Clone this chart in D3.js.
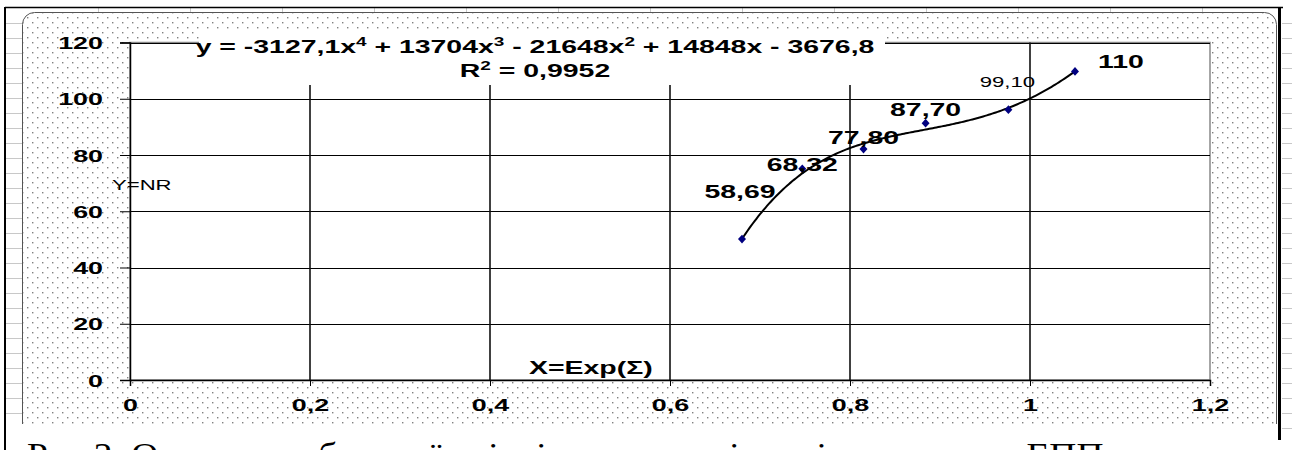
<!DOCTYPE html>
<html>
<head>
<meta charset="utf-8">
<script src="https://cdn.jsdelivr.net/npm/d3@7"></script>
<style>
  body { margin: 0; background: #fff; }
  svg { display: block; }
</style>
</head>
<body>
<script>
// data
let xValues = [0.68, 0.747, 0.815, 0.884, 0.976, 1.05];
let yValues = [50.1, 75.1, 82.1, 91.3, 96.1, 109.7];
let pointLabels = ["58,69", "68,32", "77,80", "87,70", "99,10", "110"];
let xTicks = [0, 0.2, 0.4, 0.6, 0.8, 1, 1.2];
let yTicks = [0, 20, 40, 60, 80, 100, 120];
// trendline y = a0 + a1 x + a2 x^2 + a3 x^3 + a4 x^4
let trendCoef = [-3676.8, 14848, -21648, 13704, -3127.1];
let rSquared = 0.9952;

// label placement relative to the marker (layout, not data)
let labelOffsets = [[-2, -41], [0, 2], [0, -5], [0, -7], [-1, -23], [46, -3]];

let width = 1292;
let height = 450;
let S = 1.58; // the scanned picture is stretched sideways, so is the lettering

let comma = d => String(d).replace(".", ",");

let svg = d3.select("body")
    .append("svg")
    .attr("width", width)
    .attr("height", height);

// dotted chart area fill
let defs = svg.append("defs");
let pat = defs.append("pattern")
    .attr("id", "dots")
    .attr("width", 10)
    .attr("height", 10)
    .attr("patternUnits", "userSpaceOnUse");
pat.append("rect").attr("width", 10).attr("height", 10).attr("fill", "#fff");
pat.append("rect").attr("x", 2).attr("y", 2).attr("width", 1.4).attr("height", 1.4).attr("fill", "#808080");
pat.append("rect").attr("x", 7).attr("y", 7).attr("width", 1.4).attr("height", 1.4).attr("fill", "#808080");

// spreadsheet cells showing around the chart
let cellRows = d3.range(23, 440, 15);
svg.selectAll("line.cellL")
    .data(cellRows)
    .enter()
        .append("line")
        .attr("x1", 6).attr("x2", 22)
        .attr("y1", d => d + 0.5).attr("y2", d => d + 0.5)
        .attr("stroke", "#c8c8c8");
svg.selectAll("line.cellR")
    .data(cellRows)
    .enter()
        .append("line")
        .attr("x1", 1282).attr("x2", 1292)
        .attr("y1", d => d + 0.5).attr("y2", d => d + 0.5)
        .attr("stroke", "#c8c8c8");
svg.selectAll("line.cellTop")
    .data(d3.range(98, 1276, 92))
    .enter()
        .append("line")
        .attr("x1", d => d + 0.5).attr("x2", d => d + 0.5)
        .attr("y1", 8).attr("y2", 13)
        .attr("stroke", "#c8c8c8");

// chart area
svg.append("rect")
    .attr("x", 22.5).attr("y", 12.5)
    .attr("width", 1254).attr("height", 430)
    .attr("rx", 12).attr("ry", 12)
    .attr("fill", "url(#dots)")
    .attr("stroke", "#555");

// page frame
svg.append("line").attr("x1", 5).attr("x2", 1283).attr("y1", 7.5).attr("y2", 7.5)
    .attr("stroke", "#000").attr("stroke-width", 1.5);
svg.append("line").attr("x1", 5).attr("x2", 5).attr("y1", 7).attr("y2", 450)
    .attr("stroke", "#000").attr("stroke-width", 2);
svg.append("line").attr("x1", 1279.5).attr("x2", 1279.5).attr("y1", 7).attr("y2", 440)
    .attr("stroke", "#000").attr("stroke-width", 3);

// scales
let x = d3.scaleLinear().domain([0, 1.2]).range([130, 1210]);
let y = d3.scaleLinear().domain([0, 120]).range([380, 42.5]);

// plot area
svg.append("rect")
    .attr("x", x(0)).attr("y", y(120))
    .attr("width", x(1.2) - x(0)).attr("height", y(0) - y(120))
    .attr("fill", "#fff")
    .attr("stroke", "#888")
    .attr("stroke-width", 1.5);

let grid = svg.append("g");
grid.selectAll("line.h")
    .data(yTicks.filter(d => d > 0))
    .enter()
        .append("line")
        .attr("x1", x(0)).attr("x2", x(1.2))
        .attr("y1", d => Math.round(y(d)) + 0.5).attr("y2", d => Math.round(y(d)) + 0.5)
        .attr("stroke", "#000");
grid.selectAll("line.v")
    .data(xTicks.filter(d => d > 0 && d < 1.2))
    .enter()
        .append("line")
        .attr("x1", d => x(d)).attr("x2", d => x(d))
        .attr("y1", y(120)).attr("y2", y(0))
        .attr("stroke", "#111")
        .attr("stroke-width", 1.6);

// axes
let yAxis = d3.axisLeft(y).tickValues(yTicks).tickSize(10).tickFormat(comma);
let xAxis = d3.axisBottom(x).tickValues(xTicks).tickSize(6).tickFormat(comma);

let gy = svg.append("g")
    .attr("transform", `translate(${x(0)}, 0)`)
    .call(yAxis);
let gx = svg.append("g")
    .attr("transform", `translate(0, ${y(0)})`)
    .call(xAxis);

[gy, gx].forEach(g => {
    g.select(".domain").attr("stroke", "#000").attr("stroke-width", 1.5);
    g.selectAll(".tick line").attr("stroke", "#000");
    g.selectAll(".tick text")
        .attr("font-family", "'Liberation Sans', Arial, sans-serif")
        .attr("font-weight", "bold")
        .attr("font-size", 17)
        .attr("fill", "#000");
});
gy.selectAll(".tick text")
    .attr("x", -27 / S)
    .attr("dy", "0.36em")
    .attr("transform", `scale(${S}, 1)`);
gx.selectAll(".tick text")
    .attr("y", 25)
    .attr("dy", "0.36em")
    .attr("transform", `scale(${S}, 1)`);

// white box behind the trendline equation
svg.append("rect")
    .attr("x", 199).attr("y", 32)
    .attr("width", 686).attr("height", 53)
    .attr("fill", "#fff");

// trendline from the equation
let poly = v => trendCoef.reduce((s, a, i) => s + a * Math.pow(v, i), 0);
let trendX = d3.ticks(d3.min(xValues), d3.max(xValues), 120)
    .concat([d3.min(xValues), d3.max(xValues)])
    .sort((a, b) => a - b);
let line = d3.line()
    .x(d => x(d))
    .y(d => y(poly(d)));
svg.append("path")
    .attr("d", line(trendX))
    .attr("fill", "none")
    .attr("stroke", "#000")
    .attr("stroke-width", 2);

// markers
let points = xValues.map((d, i) => ({ x: d, y: yValues[i], label: pointLabels[i], off: labelOffsets[i] }));
svg.selectAll("path.marker")
    .data(points)
    .enter()
        .append("path")
        .attr("class", "marker")
        .attr("d", d3.symbol().type(d3.symbolDiamond).size(22))
        .attr("transform", d => `translate(${x(d.x)}, ${y(d.y)}) scale(${S}, 1)`)
        .attr("fill", "#000080");

// stretched text helper
function label(px, py, txt, opts) {
    let t = svg.append("text")
        .attr("transform", `translate(${px}, ${py}) scale(${S}, 1)`)
        .attr("font-family", opts.family || "'Liberation Sans', Arial, sans-serif")
        .attr("font-weight", opts.weight || "bold")
        .attr("font-size", opts.size)
        .attr("text-anchor", opts.anchor || "middle")
        .attr("fill", "#000");
    if (txt !== null) t.text(txt);
    return t;
}

// data labels
points.forEach((d, i) => {
    let small = i === 4;
    label(x(d.x) + d.off[0], y(d.y) + d.off[1], d.label, {
        size: small ? 14 : 18,
        weight: small ? "normal" : "bold"
    });
});

// equation text
let fmt = v => comma(Math.abs(v));
let sign = (v, first) => v < 0 ? (first ? "-" : " - ") : (first ? "" : " + ");
let eq = label(535, 53, null, { size: 18 });
let parts = [
    ["y = " + sign(trendCoef[4], true) + fmt(trendCoef[4]) + "x", "4"],
    [sign(trendCoef[3]) + fmt(trendCoef[3]) + "x", "3"],
    [sign(trendCoef[2]) + fmt(trendCoef[2]) + "x", "2"],
    [sign(trendCoef[1]) + fmt(trendCoef[1]) + "x" + sign(trendCoef[0]) + fmt(trendCoef[0]), null]
];
let back = 0;
parts.forEach(p => {
    eq.append("tspan").attr("dy", back).text(p[0]);
    back = 0;
    if (p[1]) {
        eq.append("tspan").attr("dy", -7).attr("font-size", 12).text(p[1]);
        back = 7;
    }
});
let r2 = label(535, 77, null, { size: 18 });
r2.append("tspan").text("R");
r2.append("tspan").attr("dy", -7).attr("font-size", 12).text("2");
r2.append("tspan").attr("dy", 7).text(" = " + comma(rSquared));

// axis titles
label(112, 190, "Y=NR", { size: 14, weight: "normal", anchor: "start" });
label(529, 374, "X=Exp(\u03A3)", { size: 18, anchor: "start" });

// caption under the chart (cut by the page edge, as in the scan)
svg.append("rect")
    .attr("x", 6).attr("y", 424)
    .attr("width", 1272).attr("height", 26)
    .attr("fill", "#fff");
svg.append("text")
    .attr("transform", `translate(27, 466) scale(1.1, 1)`)
    .attr("font-family", "'Liberation Serif', 'Times New Roman', serif")
    .attr("font-size", 34)
    .attr("fill", "#000")
    .text("Рис 2. Отримана область їх рівнів та залежність від показника ЕПП");
</script>
</body>
</html>
